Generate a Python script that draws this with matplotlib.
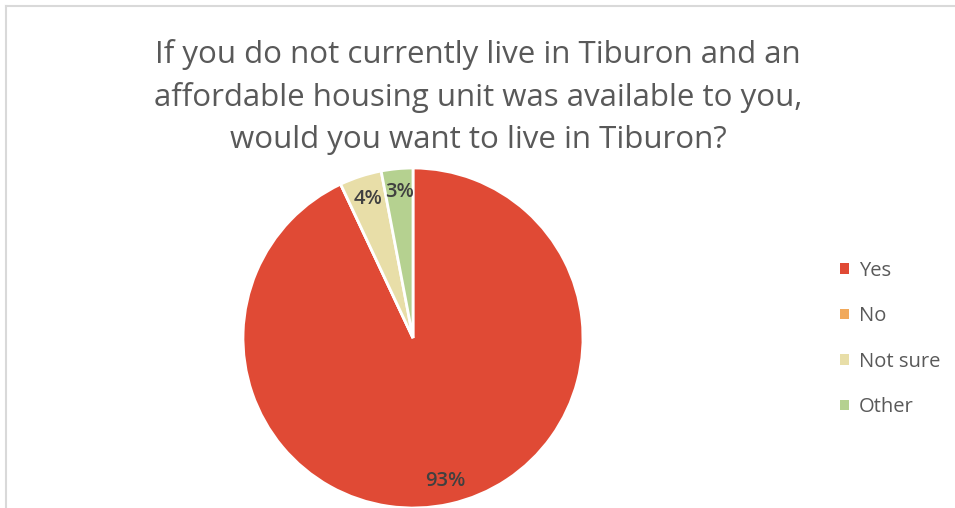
import numpy as np
import matplotlib.pyplot as plt
from matplotlib.lines import Line2D
from matplotlib.patches import Patch

# ==== DATA ====
categories = ['Yes', 'No', 'Not sure', 'Other']
shares = [93, 0, 4, 3]
colors = ['#E04A35', '#F1A95B', '#E8DEA8', '#B5D190']

title = ('If you do not currently live in Tiburon and an\n'
         'affordable housing unit was available to you,\n'
         'would you want to live in Tiburon?')

plt.rcParams['font.family'] = ['Open Sans', 'DejaVu Sans']

W, H = 955, 508
fig = plt.figure(figsize=(W / 100, H / 100), dpi=100)

# chart frame (top and left edges visible)
fig.add_artist(Line2D([5.5 / W, 5.5 / W], [0, 1 - 5.5 / H], transform=fig.transFigure,
                      color='#D9D9D9', lw=1.5))
fig.add_artist(Line2D([5.5 / W, 1], [1 - 5.5 / H, 1 - 5.5 / H], transform=fig.transFigure,
                      color='#D9D9D9', lw=1.5))

fig.text(478 / W, 1 - 97 / H, title, ha='center', va='center', fontsize=22.5,
         color='#595959', linespacing=1.5)

# pie centred at (413, 338) px, radius 170 px
cx, cy, r = 413, 338, 170
ax = fig.add_axes([(cx - r) / W, (H - cy - r) / H, 2 * r / W, 2 * r / H])
wedges, _ = ax.pie(shares, colors=colors, startangle=90, counterclock=False,
                   wedgeprops=dict(edgecolor='white', linewidth=2))
ax.set_xlim(-1, 1)
ax.set_ylim(-1, 1)
ax.set_aspect('equal')
ax.axis('off')

# percentage labels at the wedge midpoints, skipping empty slices
for w, v in zip(wedges, shares):
    if v == 0:
        continue
    ang = np.deg2rad((w.theta1 + w.theta2) / 2)
    ax.text(0.86 * np.cos(ang), 0.86 * np.sin(ang), f'{v}%', ha='center', va='center',
            fontsize=14.5, fontweight='semibold', color='#404040')

handles = [Patch(facecolor=c, edgecolor='none') for c in colors]
fig.legend(handles, categories, loc='center left', bbox_to_anchor=(822 / W, 1 - 339 / H),
           frameon=False, fontsize=14.5, handlelength=0.42, handleheight=0.42,
           handletextpad=0.5, labelspacing=1.27, labelcolor='#595959')

fig.savefig('out.png', dpi=100)
